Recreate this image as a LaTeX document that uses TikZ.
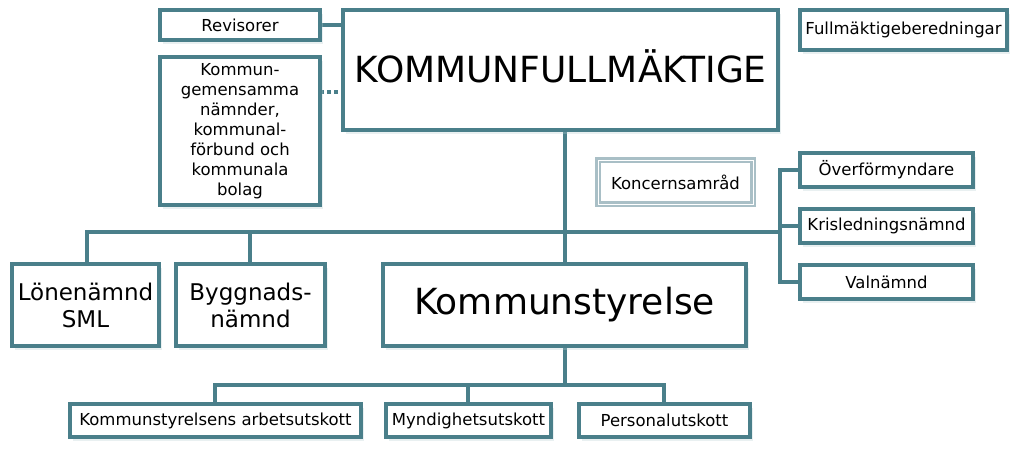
\documentclass[tikz,border=0pt]{standalone}
\usepackage{fontspec}
\setmainfont{DejaVu Sans}
\usetikzlibrary{shadows}
\definecolor{teal}{HTML}{4A7F8A}
\definecolor{lightb}{HTML}{A9BFC6}
\begin{document}
\begin{tikzpicture}[x=1pt,y=-1pt,
  bx/.style={draw=teal,line width=4.2pt,fill=white,align=center,inner sep=0pt,
    drop shadow={shadow xshift=3pt,shadow yshift=-4pt,opacity=0.3,fill=teal!40}},
  ln/.style={draw=teal,line width=4pt},
  sm/.style={font=\fontsize{16.5}{20}\selectfont},
  md/.style={font=\fontsize{23}{27}\selectfont},
  lg/.style={font=\fontsize{36}{40}\selectfont}]
\useasboundingbox (0,0) rectangle (1024,459);
% connectors first
\draw[ln] (565,130) -- (565,264);
\draw[ln] (87,264) -- (87,232) -- (780,232);
\draw[ln] (250,232) -- (250,264);
\draw[ln] (800,170) -- (780,170) -- (780,282) -- (800,282);
\draw[ln] (780,226) -- (800,226);
\draw[ln] (565,346) -- (565,385);
\draw[ln] (215,404) -- (215,385) -- (664,385) -- (664,404);
\draw[ln] (468,385) -- (468,404);
\draw[ln] (320,25) -- (343,25);
\draw[teal,line width=4pt,dash pattern=on 4pt off 3pt] (320,92) -- (343,92);
% boxes
\node[bx,sm,minimum width=160,minimum height=30] (rev) at (240,25) {Revisorer};
\node[bx,lg,minimum width=435,minimum height=120] (kf) at (560.5,70) {\raisebox{8pt}{KOMMUNFULLMÄKTIGE}};
\node[bx,sm,minimum width=207,minimum height=40] (fb) at (903.5,30) {Fullmäktigeberedningar};
\node[bx,sm,minimum width=160,minimum height=148] (kg) at (240,131) {Kommun-\\gemensamma\\nämnder,\\kommunal-\\förbund och\\kommunala\\bolag};
\node[draw=lightb,line width=2.5pt,fill=white,sm,minimum width=155,minimum height=44,inner sep=0pt,
  double=white,double distance=0.8pt,drop shadow={shadow xshift=2pt,shadow yshift=-3pt,opacity=0.2}] (ks0) at (675.5,182) {Koncernsamråd};
\node[bx,sm,minimum width=173,minimum height=34] (of) at (886.5,170) {Överförmyndare};
\node[bx,sm,minimum width=173,minimum height=34] (kl) at (886.5,226) {Krisledningsnämnd};
\node[bx,sm,minimum width=173,minimum height=34] (vn) at (886.5,282) {Valnämnd};
\node[bx,md,minimum width=147,minimum height=82] (ln) at (85.5,305) {Lönenämnd\\SML};
\node[bx,md,minimum width=149,minimum height=82] (bn) at (250.5,305) {Byggnads-\\nämnd};
\node[bx,lg,minimum width=363,minimum height=82] (ks) at (564.5,305) {Kommunstyrelse};
\node[bx,sm,minimum width=291,minimum height=33] (au) at (215.5,420.5) {Kommunstyrelsens arbetsutskott};
\node[bx,sm,minimum width=165,minimum height=33] (mu) at (468.5,420.5) {Myndighetsutskott};
\node[bx,sm,minimum width=171,minimum height=33] (pu) at (664.5,420.5) {Personalutskott};
\end{tikzpicture}
\end{document}
